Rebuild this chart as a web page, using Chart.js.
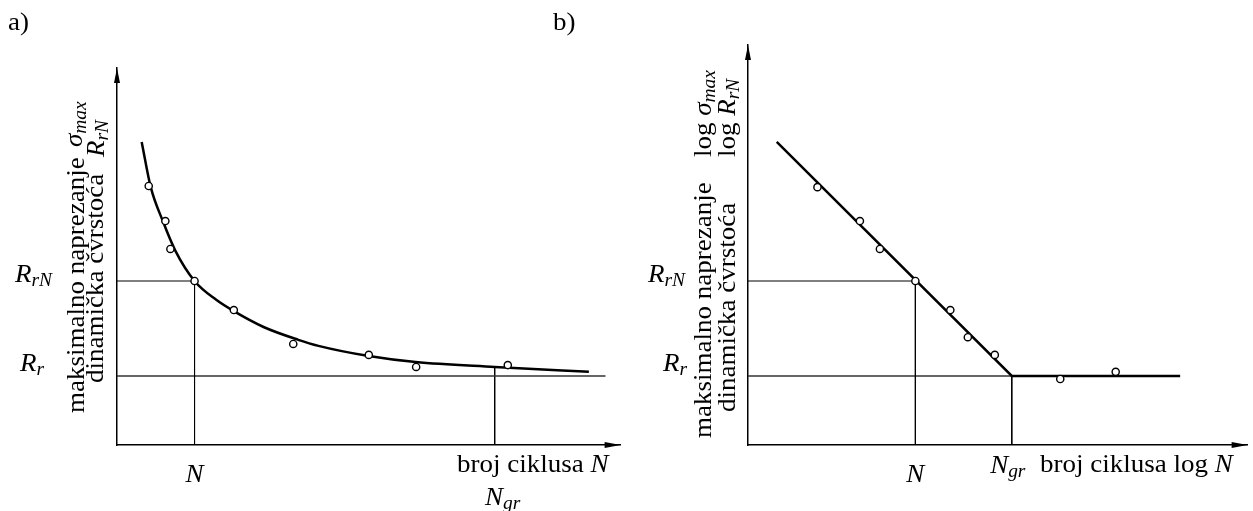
<!DOCTYPE html>
<html>
<head>
<meta charset="utf-8">
<script src="https://cdn.jsdelivr.net/npm/chart.js"></script>
<style>
  html, body { margin: 0; padding: 0; background: #fff; }
  #wrap { position: relative; width: 1253px; height: 511px; }
  #chartA { position: absolute; left: 0; top: 0; }
  #chartB { position: absolute; left: 540px; top: 0; }
</style>
</head>
<body>
<div id="wrap">
  <canvas id="chartA" width="626" height="511"></canvas>
  <canvas id="chartB" width="713" height="511"></canvas>
</div>
<script>
// a) Wöhlerova krivulja, linearno mjerilo
const krivuljaA_x = [4.9, 6.7, 9.1, 11.6, 15.4, 19.7, 23.2, 29.1, 36.0, 40.0, 50.0, 59.3, 75.0, 93.7];
const krivuljaA_y = [80.4, 68.4, 59.4, 51.5, 43.5, 38.5, 35.5, 31.3, 27.9, 26.3, 23.6, 22.0, 20.7, 19.4];
const pokusiA_x = [6.3, 9.6, 10.6, 15.4, 23.2, 35.0, 50.0, 59.4, 77.6];
const pokusiA_y = [68.7, 59.4, 52.0, 43.5, 35.8, 26.8, 23.9, 20.7, 21.2];

// b) isto u log-log mjerilu
const pravacB_x = [5.75, 52.8, 86.5];
const pravacB_y = [80.4, 18.3, 18.3];
const pokusiB_x = [13.9, 22.4, 26.4, 33.5, 40.5, 44.0, 49.4, 62.5, 73.6];
const pokusiB_y = [68.4, 59.4, 52.0, 43.5, 35.8, 28.6, 23.9, 17.5, 19.4];

// karakteristične vrijednosti
const RrN = 43.5;
const Rr = 18.3;
const N_A = 15.4, Ngr_A = 75.0, NgrA_y = 20.7, RrKraj_A = 97.0;
const N_B = 33.5, Ngr_B = 52.8;

const FONT = '"Liberation Serif", "Times New Roman", serif';
const RAST = 1.08; // tekst je u originalu malo razvučen

function tocke(xs, ys) {
  return xs.map((x, i) => ({ x: x, y: ys[i] }));
}

function sirina(ctx, dijelovi) {
  let w = 0;
  for (const d of dijelovi) {
    ctx.font = (d.i ? 'italic ' : '') + (d.s || 25) + 'px ' + FONT;
    w += ctx.measureText(d.t).width;
  }
  return w * RAST;
}

function pisi(ctx, x, y, dijelovi, kut, centar) {
  ctx.save();
  ctx.translate(x, y);
  if (kut) ctx.rotate(kut);
  let pos = centar ? -sirina(ctx, dijelovi) / 2 : 0;
  ctx.translate(pos, 0);
  ctx.scale(RAST, 1);
  ctx.fillStyle = '#000';
  ctx.textBaseline = 'alphabetic';
  ctx.textAlign = 'left';
  pos = 0;
  for (const d of dijelovi) {
    ctx.font = (d.i ? 'italic ' : '') + (d.s || 25) + 'px ' + FONT;
    ctx.fillText(d.t, pos, d.dy || 0);
    pos += ctx.measureText(d.t).width;
  }
  ctx.restore();
}

function strelice(chart) {
  const ctx = chart.ctx, a = chart.chartArea;
  ctx.save();
  ctx.fillStyle = '#000';
  ctx.beginPath();
  ctx.moveTo(a.left, a.top);
  ctx.lineTo(a.left - 3, a.top + 15);
  ctx.lineTo(a.left + 3, a.top + 15);
  ctx.closePath();
  ctx.fill();
  ctx.beginPath();
  ctx.moveTo(a.right, a.bottom);
  ctx.lineTo(a.right - 16, a.bottom - 3);
  ctx.lineTo(a.right - 16, a.bottom + 3);
  ctx.closePath();
  ctx.fill();
  ctx.restore();
}

const sub = (t) => ({ t: t, i: true, s: 18, dy: 4 });
const it = (t) => ({ t: t, i: true });
const tx = (t) => ({ t: t });

function linija(data, sirinaL, red, boja) {
  return {
    data: data, showLine: true, borderColor: boja || '#000', borderWidth: sirinaL,
    pointRadius: 0, fill: false, order: red, clip: false
  };
}

function mjerenja(data) {
  return {
    data: data, pointRadius: 3.6, pointBorderWidth: 1.4,
    pointBackgroundColor: '#fff', pointBorderColor: '#000', showLine: false, order: 0, clip: false
  };
}

function opcije(ymax, padLeft, padTop) {
  return {
    responsive: false,
    devicePixelRatio: 1,
    animation: false,
    layout: { padding: { left: padLeft, top: padTop, right: 1, bottom: 66 } },
    plugins: { legend: { display: false }, tooltip: { enabled: false } },
    scales: {
      x: {
        type: 'linear', min: 0, max: 100,
        grid: { display: false, drawTicks: false },
        ticks: { display: false },
        border: { display: true, color: '#000', width: 1.5 }
      },
      y: {
        type: 'linear', min: 0, max: ymax,
        grid: { display: false, drawTicks: false },
        ticks: { display: false },
        border: { display: true, color: '#000', width: 1.5 }
      }
    }
  };
}

// ---------- a) ----------
new Chart(document.getElementById('chartA'), {
  type: 'scatter',
  data: {
    datasets: [
      mjerenja(tocke(pokusiA_x, pokusiA_y)),
      Object.assign(linija(tocke(krivuljaA_x, krivuljaA_y), 2.5, 1), { cubicInterpolationMode: 'monotone' }),
      linija([{ x: 0, y: RrN }, { x: N_A, y: RrN }, { x: N_A, y: 0 }], 1, 2),
      linija([{ x: 0, y: Rr }, { x: RrKraj_A, y: Rr }], 1.3, 2, '#333'),
      linija([{ x: Ngr_A, y: NgrA_y }, { x: Ngr_A, y: 0 }], 1, 2)
    ]
  },
  options: opcije(100, 117, 68),
  plugins: [{
    id: 'tekstA',
    afterDraw(chart) {
      const ctx = chart.ctx, sx = chart.scales.x, sy = chart.scales.y;
      strelice(chart);
      pisi(ctx, 8, 30, [tx('a)')]);
      // naslov osi y (okomito)
      pisi(ctx, 84, 413, [tx('maksimalno naprezanje')], -Math.PI / 2);
      pisi(ctx, 82, 147, [it('σ'), sub('max')], -Math.PI / 2);
      pisi(ctx, 103, 383, [tx('dinamička čvrstoća')], -Math.PI / 2);
      pisi(ctx, 104, 157, [it('R'), sub('rN')], -Math.PI / 2);
      // oznake na osi y
      pisi(ctx, 15, sy.getPixelForValue(RrN) + 1, [it('R'), sub('rN')]);
      pisi(ctx, 20, sy.getPixelForValue(Rr) - 5, [it('R'), sub('r')]);
      // oznake na osi x
      pisi(ctx, sx.getPixelForValue(N_A), 482, [it('N')], 0, true);
      pisi(ctx, sx.getPixelForValue(Ngr_A) + 8, 505, [it('N'), sub('gr')], 0, true);
      pisi(ctx, 457, 472, [tx('broj ciklusa '), it('N')]);
    }
  }]
});

// ---------- b) ----------
new Chart(document.getElementById('chartB'), {
  type: 'scatter',
  data: {
    datasets: [
      mjerenja(tocke(pokusiB_x, pokusiB_y)),
      linija(tocke(pravacB_x, pravacB_y), 2.5, 1),
      linija([{ x: 0, y: RrN }, { x: N_B, y: RrN }, { x: N_B, y: 0 }], 1, 2),
      linija([{ x: 0, y: Rr }, { x: Ngr_B, y: Rr }], 1.3, 2, '#333'),
      linija([{ x: Ngr_B, y: Rr }, { x: Ngr_B, y: 0 }], 1, 2)
    ]
  },
  options: opcije(106.1, 208, 45),
  plugins: [{
    id: 'tekstB',
    afterDraw(chart) {
      const ctx = chart.ctx, sx = chart.scales.x, sy = chart.scales.y;
      strelice(chart);
      pisi(ctx, 13, 30, [tx('b)')]);
      pisi(ctx, 171, 438, [tx('maksimalno naprezanje')], -Math.PI / 2);
      pisi(ctx, 171, 157, [tx('log '), it('σ'), sub('max')], -Math.PI / 2);
      pisi(ctx, 195, 412, [tx('dinamička čvrstoća')], -Math.PI / 2);
      pisi(ctx, 195, 157, [tx('log '), it('R'), sub('rN')], -Math.PI / 2);
      pisi(ctx, 108, sy.getPixelForValue(RrN) + 1, [it('R'), sub('rN')]);
      pisi(ctx, 123, sy.getPixelForValue(Rr) - 5, [it('R'), sub('r')]);
      pisi(ctx, sx.getPixelForValue(N_B), 482, [it('N')], 0, true);
      pisi(ctx, sx.getPixelForValue(Ngr_B) - 4, 473, [it('N'), sub('gr')], 0, true);
      pisi(ctx, 500, 472, [tx('broj ciklusa log '), it('N')]);
    }
  }]
});
</script>
</body>
</html>
